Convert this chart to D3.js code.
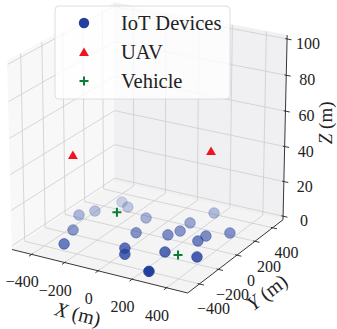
<!DOCTYPE html>
<html><head><meta charset="utf-8">
<script src="https://cdn.jsdelivr.net/npm/d3@7"></script>
<style>body{margin:0;background:#fff}svg{display:block}</style>
</head><body>
<svg id="c" width="337" height="329"></svg>
<script>
// ---------------- data ----------------
const iotX = [-428, -382, -318, -256, -99, 135, 182, -353, -300, -48, 110, 141, 289, 379, 283, 0, 38, 203, 375, 249];
const iotY = [-9, 79, 255, 212, 136, 196, 375, -191, -365, -56, 3, 78, 90, 187, 14, -253, -318, -191, -162, -436];
const iotZ = [0, 0, 0, 0, 0, 0, 0, 0, 0, 0, 0, 0, 0, 0, 0, 0, 0, 0, 0, 0];
const uavX = [-253, 332];
const uavY = [-343, 57];
const uavZ = [50, 50];
const vehX = [-272, 280];
const vehY = [124, -191];
const vehZ = [0, 0];
const xTicks = [-400, -200, 0, 200, 400];
const yTicks = [-400, -200, 0, 200, 400];
const zTicks = [0, 20, 40, 60, 80, 100];
const legendLabels = ["IoT Devices", "UAV", "Vehicle"];
const axisLabels = ["X", "Y", "Z"];

// ---------------- view ----------------
const elev = 22, azim = -60, dist = 24;
const xLim = [-500, 500], yLim = [-500, 500], zLim = [0, 100];
function padded(l) { const p = (l[1] - l[0]) / 48; return [l[0] - p, l[1] + p]; }
const xs = d3.scaleLinear().domain(padded(xLim)).range([-1, 1]);
const ys = d3.scaleLinear().domain(padded(yLim)).range([-1, 1]);
const zs = d3.scaleLinear().domain(padded(zLim)).range([-1, 1]);
const px = d3.scaleLinear().domain([0, 1]).range([149.4, 250.1]);
const py = d3.scaleLinear().domain([0, 1]).range([142.5, 41.8]);
const e = elev * Math.PI / 180, a = azim * Math.PI / 180;
const se = Math.sin(e), ce = Math.cos(e), sa = Math.sin(a), ca = Math.cos(a);
function proj(X, Y, Z) {
  const sx = -sa * X + ca * Y;
  const sy = -se * ca * X - se * sa * Y + ce * Z;
  const d = ce * ca * X + ce * sa * Y + se * Z;
  const f = dist / (dist - d);
  return { x: px(sx * f), y: py(sy * f), d };
}
function P(x, y, z) { return proj(xs(x), ys(y), zs(z)); }

const svg = d3.select("#c");
const FONT = "'Liberation Serif','Times New Roman',serif";

// ---------------- panes ----------------
const panes = [
  { pts: [[-1,-1,-1],[-1,1,-1],[-1,1,1],[-1,-1,1]], fill: "#f8f8f8" },
  { pts: [[-1,1,-1],[1,1,-1],[1,1,1],[-1,1,1]], fill: "#f0f0f3" },
  { pts: [[-1,-1,-1],[1,-1,-1],[1,1,-1],[-1,1,-1]], fill: "#f4f4f5" }
];
svg.append("g").selectAll("path").data(panes).join("path")
  .attr("d", p => d3.line()(p.pts.map(q => { const r = proj(...q); return [r.x, r.y]; })) + "Z")
  .attr("fill", p => p.fill).attr("stroke", p => p.fill).attr("stroke-width", 0.8);

// ---------------- grid ----------------
const grid = [];
xTicks.forEach(v => {
  const X = xs(v);
  grid.push([[X,-1,-1],[X,1,-1]]);
  grid.push([[X,1,-1],[X,1,1]]);
});
yTicks.forEach(v => {
  const Y = ys(v);
  grid.push([[-1,Y,-1],[1,Y,-1]]);
  grid.push([[-1,Y,-1],[-1,Y,1]]);
});
zTicks.forEach(v => {
  const Z = zs(v);
  grid.push([[-1,-1,Z],[-1,1,Z]]);
  grid.push([[-1,1,Z],[1,1,Z]]);
});
svg.append("g").selectAll("line").data(grid).join("line")
  .each(function(g) {
    const p0 = proj(...g[0]), p1 = proj(...g[1]);
    d3.select(this).attr("x1", p0.x).attr("y1", p0.y).attr("x2", p1.x).attr("y2", p1.y);
  })
  .attr("stroke", "#cdcdcd").attr("stroke-width", 0.8);

// ---------------- axis lines + ticks ----------------
const axisG = svg.append("g").attr("stroke", "#222").attr("stroke-width", 0.9);
const edges = [[[-1,-1,-1],[1,-1,-1]], [[1,-1,-1],[1,1,-1]], [[1,1,-1],[1,1,1]]];
edges.forEach(ed => {
  const p0 = proj(...ed[0]), p1 = proj(...ed[1]);
  axisG.append("line").attr("x1", p0.x).attr("y1", p0.y).attr("x2", p1.x).attr("y2", p1.y);
});
const tickSegs = [];
xTicks.forEach(v => tickSegs.push([[xs(v),-0.98,-1],[xs(v),-1.05,-1]]));
yTicks.forEach(v => tickSegs.push([[0.98,ys(v),-1],[1.05,ys(v),-1]]));
zTicks.forEach(v => tickSegs.push([[0.98,1,zs(v)],[1.05,1,zs(v)]]));
tickSegs.forEach(t => {
  const p0 = proj(...t[0]), p1 = proj(...t[1]);
  axisG.append("line").attr("x1", p0.x).attr("y1", p0.y).attr("x2", p1.x).attr("y2", p1.y);
});

// ---------------- tick labels ----------------
const fmt = v => (v < 0 ? "\u2212" + Math.abs(v) : String(v));
const tl = svg.append("g").attr("font-family", FONT).attr("font-size", 16)
  .attr("fill", "#222").attr("text-anchor", "middle").attr("dominant-baseline", "central");
xTicks.forEach(v => { const p = proj(xs(v), -1, -1);
  tl.append("text").attr("x", p.x - 9.5).attr("y", p.y + 27.5).text(fmt(v)); });
yTicks.forEach(v => { const p = proj(1, ys(v), -1);
  tl.append("text").attr("x", p.x + 14).attr("y", p.y + 25).text(fmt(v)); });
zTicks.forEach(v => { const p = proj(1, 1, zs(v));
  tl.append("text").attr("x", p.x + 21).attr("y", p.y + 4.5).text(fmt(v)); });

// ---------------- axis labels ----------------
function axisLabel(letter, x, y, ang, size) {
  const t = svg.append("text").attr("font-family", FONT).attr("font-size", size).attr("fill", "#222")
    .attr("text-anchor", "middle").attr("dominant-baseline", "central")
    .attr("transform", `translate(${x},${y}) rotate(${ang})`);
  t.append("tspan").attr("font-style", "italic").text(letter);
  t.append("tspan").text(" (m)");
}
{
  const a0 = proj(xs(-400), -1, -1), a1 = proj(xs(400), -1, -1), am = proj(xs(0), -1, -1);
  axisLabel(axisLabels[0], am.x - 20, am.y + 43, Math.atan2(a1.y - a0.y, a1.x - a0.x) * 180 / Math.PI, 20);
  const b0 = proj(1, ys(-400), -1), b1 = proj(1, ys(400), -1), bm = proj(1, ys(0), -1);
  axisLabel(axisLabels[1], bm.x + 30, bm.y + 37, Math.atan2(b1.y - b0.y, b1.x - b0.x) * 180 / Math.PI, 20);
  const cm = proj(1, 1, zs(50));
  axisLabel(axisLabels[2], cm.x + 40, cm.y - 6, -90, 19);
}

// ---------------- points ----------------
const IOT = "#233f9e", UAVC = "#f0141e", VEHC = "#0a7d36";
const marks = [];
iotX.forEach((x, i) => { const p = P(x, iotY[i], iotZ[i]); marks.push({ t: 0, ...p }); });
uavX.forEach((x, i) => { const p = P(x, uavY[i], uavZ[i]); marks.push({ t: 1, ...p }); });
vehX.forEach((x, i) => { const p = P(x, vehY[i], vehZ[i]); marks.push({ t: 2, ...p }); });
const iotD = marks.filter(m => m.t === 0).map(m => m.d);
const alphaS = d3.scaleLinear().domain([d3.min(iotD), d3.max(iotD)]).range([0.28, 1]);
marks.sort((m1, m2) => m1.d - m2.d);
const tri = "M0,-4.6L4.9,3.9L-4.9,3.9Z";
const plus = "M-4.5,0H4.5M0,-4.5V4.5";
const pg = svg.append("g");
marks.forEach(m => {
  if (m.t === 0) {
    const al = Math.pow(alphaS(m.d), 1.25);
    pg.append("circle").attr("cx", m.x).attr("cy", m.y).attr("r", 5.3)
      .attr("fill", IOT).attr("stroke", IOT).attr("stroke-width", 0.8)
      .attr("fill-opacity", al).attr("stroke-opacity", al);
  } else if (m.t === 1) {
    pg.append("path").attr("d", tri).attr("transform", `translate(${m.x},${m.y})`).attr("fill", UAVC);
  } else {
    pg.append("path").attr("d", plus).attr("transform", `translate(${m.x},${m.y})`)
      .attr("stroke", VEHC).attr("stroke-width", 2).attr("fill", "none");
  }
});

// ---------------- legend ----------------
const lg = svg.append("g");
lg.append("rect").attr("x", 55).attr("y", 6).attr("width", 175).attr("height", 93).attr("rx", 4)
  .attr("fill", "#fff").attr("fill-opacity", 0.8).attr("stroke", "#d6d6d6").attr("stroke-width", 0.8);
const rowY = d3.scalePoint().domain(legendLabels).range([23, 81]);
legendLabels.forEach((lab, i) => {
  const y = rowY(lab);
  if (i === 0) lg.append("circle").attr("cx", 84).attr("cy", y).attr("r", 5.2).attr("fill", IOT);
  if (i === 1) lg.append("path").attr("d", tri).attr("transform", `translate(84,${y})`).attr("fill", UAVC);
  if (i === 2) lg.append("path").attr("d", plus).attr("transform", `translate(84,${y})`)
    .attr("stroke", VEHC).attr("stroke-width", 2).attr("fill", "none");
  lg.append("text").attr("x", 121).attr("y", y + 7).attr("font-family", FONT).attr("font-size", 20.5)
    .attr("fill", "#222").text(lab);
});
</script>
</body></html>
